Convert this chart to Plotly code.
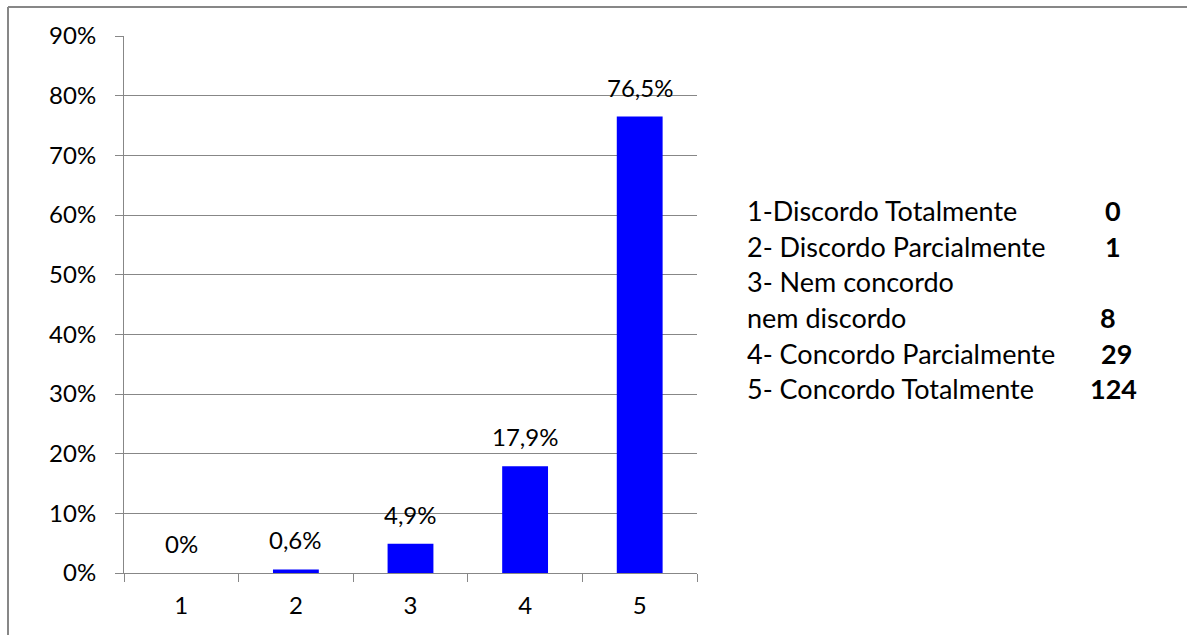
import plotly.graph_objects as go

categories = ["1", "2", "3", "4", "5"]
percent_values = [0, 0.6, 4.9, 17.9, 76.5]
percent_labels = ["0%", "0,6%", "4,9%", "17,9%", "76,5%"]
y_ticks = [0, 10, 20, 30, 40, 50, 60, 70, 80, 90]
legend_lines = ["1-Discordo Totalmente", "2- Discordo Parcialmente", "3- Nem concordo",
                "nem discordo", "4- Concordo Parcialmente", "5- Concordo Totalmente"]
legend_counts = ["0", "1", "", "8", "29", "124"]

W, H = 1187, 635
L, R, T, B = 124, 490, 36, 62
PW, PH = W - L - R, H - T - B

def px_x(px):
    return (px - L) / PW

def px_y(py):
    return (H - B - py) / PH

FONT = "Lato"
GRAY = "#878787"

fig = go.Figure()
fig.add_trace(go.Bar(x=categories, y=percent_values, width=0.4,
                     marker=dict(color="#0000FF", line=dict(width=0)),
                     hoverinfo="skip"))

annotations = []
for i, (v, lab) in enumerate(zip(percent_values, percent_labels)):
    annotations.append(dict(x=i, y=v, xref="x", yref="y", text=lab, showarrow=False,
                            yanchor="bottom", yshift=13,
                            font=dict(family=FONT, size=24, color="#000000")))

line_y = [210, 246, 281, 317, 353, 388]
count_x = [1113, 1113, 1113, 1108, 1116, 1113]
for i, (txt, cnt) in enumerate(zip(legend_lines, legend_counts)):
    annotations.append(dict(x=px_x(745), y=px_y(line_y[i]), xref="paper", yref="paper",
                            text=txt, showarrow=False, xanchor="left", yanchor="middle",
                            font=dict(family=FONT, size=27, color="#000000")))
    if cnt:
        annotations.append(dict(x=px_x(count_x[i]), y=px_y(line_y[i]), xref="paper", yref="paper",
                                text="<b>" + cnt + "</b>", showarrow=False, xanchor="center",
                                yanchor="middle",
                                font=dict(family=FONT, size=27, color="#000000")))

shapes = [
    dict(type="line", xref="paper", yref="paper", x0=px_x(8), x1=px_x(8),
         y0=px_y(7), y1=px_y(640), line=dict(color=GRAY, width=2)),
    dict(type="line", xref="paper", yref="paper", x0=px_x(8), x1=px_x(1190),
         y0=px_y(7), y1=px_y(7), line=dict(color=GRAY, width=2)),
]

fig.update_layout(
    width=W, height=H,
    margin=dict(l=L, r=R, t=T, b=B),
    paper_bgcolor="white", plot_bgcolor="white",
    showlegend=False,
    annotations=annotations,
    shapes=shapes,
    font=dict(family=FONT, size=24, color="#000000"),
    xaxis=dict(type="category", tickson="boundaries", ticks="outside", ticklen=8,
               tickcolor=GRAY, tickwidth=1, showline=True, linecolor=GRAY, linewidth=1,
               showgrid=False, range=[-0.5, 4.5], ticklabelstandoff=11,
               tickfont=dict(family=FONT, size=24, color="#000000")),
    yaxis=dict(range=[0, 90], tickvals=y_ticks, ticktext=[f"{t}%" for t in y_ticks],
               ticks="outside", ticklen=8, tickcolor=GRAY, showline=True, linecolor=GRAY,
               linewidth=1, showgrid=True, gridcolor=GRAY, gridwidth=1, zeroline=False,
               ticklabelstandoff=14,
               tickfont=dict(family=FONT, size=24, color="#000000")),
)

fig.write_html("out.html")
